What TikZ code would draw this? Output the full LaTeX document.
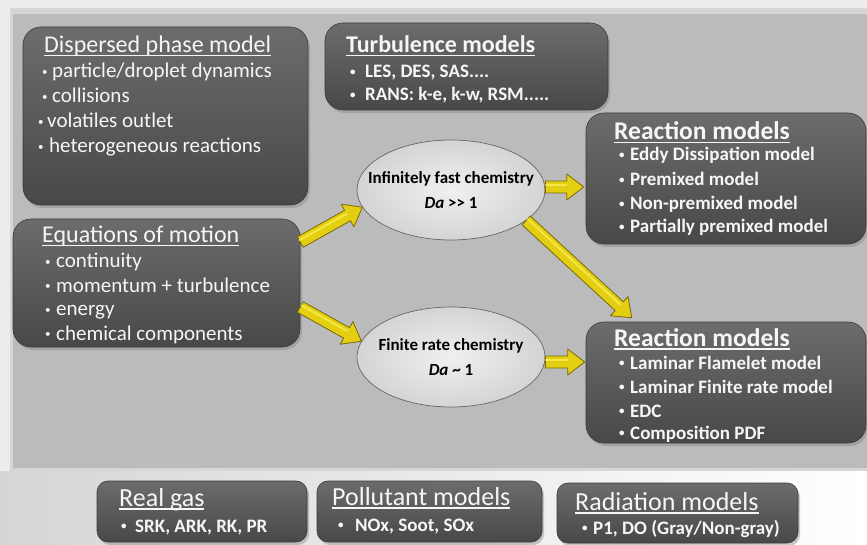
\documentclass[tikz,border=0pt]{standalone}
\usepackage{fontspec}
\setmainfont{Carlito}
\usetikzlibrary{calc,shadows,shapes.geometric}
\definecolor{bgl}{RGB}{236,236,236}
\definecolor{panelrim}{RGB}{214,214,214}
\definecolor{panel}{RGB}{187,187,187}
\definecolor{bottoml}{RGB}{214,214,214}
\definecolor{boxtop}{RGB}{108,108,108}
\definecolor{boxbot}{RGB}{72,72,72}
\definecolor{boxline}{RGB}{58,58,58}
\definecolor{txt}{RGB}{246,246,246}
\definecolor{arrowfill}{RGB}{228,206,18}
\definecolor{arrowline}{RGB}{120,105,10}
\definecolor{ellout}{RGB}{212,212,212}
\definecolor{ellin}{RGB}{240,240,240}
\newcommand\hd[1]{\setbox0\hbox{#1}\rlap{\color{txt}\rule[-3.5pt]{\wd0}{1.4pt}}\box0}
\newcommand\bl[1]{\makebox[#1][l]{\raisebox{2.5pt}{\fontsize{11}{11}\selectfont •}}}
\newcommand\fatarrow[2]{%
  \coordinate (fa-h) at ($(#2)!17pt!(#1)$);
  \draw[fatarrow] ($(#1)!6pt!90:(#2)$) -- ($(fa-h)!6pt!-90:(#1)$) -- ($(fa-h)!13pt!-90:(#1)$) -- (#2)
     -- ($(fa-h)!13pt!90:(#1)$) -- ($(fa-h)!6pt!90:(#1)$) -- ($(#1)!6pt!-90:(#2)$) -- cycle;
  \draw[arrowlight] ($(#1)!2pt!90:(#2)$) -- ($(fa-h)!2pt!-90:(#1)$);}
\tikzset{
  mbox/.style={rectangle, rounded corners=18pt, top color=boxtop, bottom color=boxbot,
    draw=boxline, line width=0.6pt, inner sep=0pt,
    drop shadow={shadow xshift=2pt, shadow yshift=-3pt, opacity=0.4}},
  sbox/.style={mbox, rounded corners=11pt},
  hdr/.style={anchor=base west, inner sep=0pt, text=txt, font=\fontsize{24}{24}\selectfont},
  hdrb/.style={hdr, font=\bfseries\fontsize{25.5}{25.5}\selectfont},
  itm/.style={anchor=base west, inner sep=0pt, text=txt, font=\fontsize{21}{21}\selectfont},
  itmb/.style={anchor=base west, inner sep=0pt, text=txt, font=\bfseries\fontsize{19}{19}\selectfont},
  chem/.style={ellipse, minimum width=188pt, minimum height=100pt, inner sep=0pt,
    inner color=ellin, outer color=ellout, draw=gray!80!black, line width=0.7pt},
  chemtext/.style={inner sep=0pt, align=center, text=black, font=\bfseries\fontsize{17}{25}\selectfont},
  fatarrow/.style={fill=arrowfill, draw=arrowline, line width=0.8pt, line join=round},
  arrowlight/.style={draw=yellow!60!white, line width=2pt, line cap=round, opacity=0.6}
}
\begin{document}
\begin{tikzpicture}[x=1pt,y=-1pt]
\useasboundingbox (0,0) rectangle (867,545);
% background
\fill[bgl] (0,0) rectangle (867,545);
\shade[left color=bottoml, right color=white] (0,471) rectangle (867,545);
\fill[panelrim] (10,8) rectangle (867,471);
\fill[panel] (13,14) rectangle (867,468);

% boxes
\node[mbox, minimum width=285pt, minimum height=178pt] (disp) at (165.5,116) {};
\node[mbox, minimum width=283pt, minimum height=87pt] (turb) at (466.5,66.5) {};
\node[mbox, minimum width=287pt, minimum height=128pt] (eq) at (156.5,283) {};
\node[mbox, minimum width=280pt, minimum height=131pt] (r1) at (726,178.5) {};
\node[mbox, minimum width=280pt, minimum height=121pt] (r2) at (726,382.5) {};
\node[sbox, minimum width=210pt, minimum height=61pt] (gas) at (202,511.5) {};
\node[sbox, minimum width=225pt, minimum height=61pt] (pol) at (429.5,511.5) {};
\node[sbox, minimum width=241pt, minimum height=60pt] (rad) at (677.5,513) {};

% dispersed phase
\node[hdr] (dh) at (44,52.5) {\hd{Dispersed phase model}};
\node[itm] (d1) at (42,78) {\bl{10pt}particle/droplet dynamics};
\node[itm] (d2) at (42,103) {\bl{10pt}collisions};
\node[itm] (d3) at (38,128) {\bl{9pt}volatiles outlet};
\node[itm] (d4) at (38,153) {\bl{11pt}heterogeneous reactions};

% turbulence
\node[hdr, font=\bfseries\fontsize{24}{24}\selectfont] (th) at (346,53) {\hd{Turbulence models}};
\node[itmb] (t1) at (350,78) {\bl{15pt}LES, DES, SAS....};
\node[itmb] (t2) at (350,101) {\bl{15pt}RANS: k-e, k-w, RSM.....};

% equations of motion
\node[hdr] (eh) at (42,243) {\hd{Equations of motion}};
\node[itm] (e1t) at (45,268) {\bl{11pt}continuity};
\node[itm] (e2t) at (45,292) {\bl{11pt}momentum + turbulence};
\node[itm] (e3t) at (45,316) {\bl{11pt}energy};
\node[itm] (e4t) at (45,340) {\bl{11pt}chemical components};

% reaction models 1
\node[hdrb] (r1h) at (614,140) {\hd{Reaction models}};
\node[itmb] (r11) at (619,161) {\bl{11pt}Eddy Dissipation model};
\node[itmb] (r12) at (619,186) {\bl{11pt}Premixed model};
\node[itmb] (r13) at (619,210) {\bl{11pt}Non-premixed model};
\node[itmb] (r14) at (619,233) {\bl{11pt}Partially premixed model};

% reaction models 2
\node[hdrb] (r2h) at (614,346) {\hd{Reaction models}};
\node[itmb] (r21) at (619,369) {\bl{11pt}Laminar Flamelet model};
\node[itmb] (r22) at (619,393) {\bl{11pt}Laminar Finite rate model};
\node[itmb] (r23) at (619,417) {\bl{11pt}EDC};
\node[itmb] (r24) at (619,439) {\bl{11pt}Composition PDF};

% bottom boxes
\node[hdr, font=\fontsize{26}{26}\selectfont] (gh) at (119,506) {\hd{Real gas}};
\node[itmb] (g1) at (121,532) {\bl{14pt}SRK, ARK, RK, PR};
\node[hdr, font=\fontsize{26}{26}\selectfont] (ph) at (332,505) {\hd{Pollutant models}};
\node[itmb] (p1) at (338,531) {\bl{17pt}NOx, Soot, SOx};
\node[hdr, font=\fontsize{26}{26}\selectfont] (rh) at (575,510) {\hd{Radiation models}};
\node[itmb] (rd1) at (582,534) {\bl{11pt}P1, DO (Gray/Non-gray)};

% chemistry ellipses
\node[chem] (c1) at (451,190) {};
\node[chemtext] (c1t) at (c1) {Infinitely fast chemistry\\\textit{Da} >\kern0pt> 1};
\node[chem] (c2) at (451,357) {};
\node[chemtext] (c2t) at (c2) {Finite rate chemistry\\\textit{Da} \textasciitilde{} 1};

% arrows
\coordinate (a1s) at ([yshift=41pt]eq.east);
\coordinate (a1e) at (c1.191);
\coordinate (a2s) at ([yshift=-24pt]eq.east);
\coordinate (a2e) at (c2.170);
\coordinate (a3s) at ([yshift=3pt]c1.east);
\coordinate (a3e) at ($(r1.west |- a3s)+(-2,0)$);
\coordinate (a4s) at (c1.-22);
\coordinate (a4e) at ($(r2.north west)+(46,-4)$);
\coordinate (a5s) at ([yshift=-5pt]c2.east);
\coordinate (a5e) at ($(r2.west |- a5s)+(-1,0)$);
\fatarrow{a1s}{a1e}
\fatarrow{a2s}{a2e}
\fatarrow{a3s}{a3e}
\fatarrow{a4s}{a4e}
\fatarrow{a5s}{a5e}
\end{tikzpicture}
\end{document}
